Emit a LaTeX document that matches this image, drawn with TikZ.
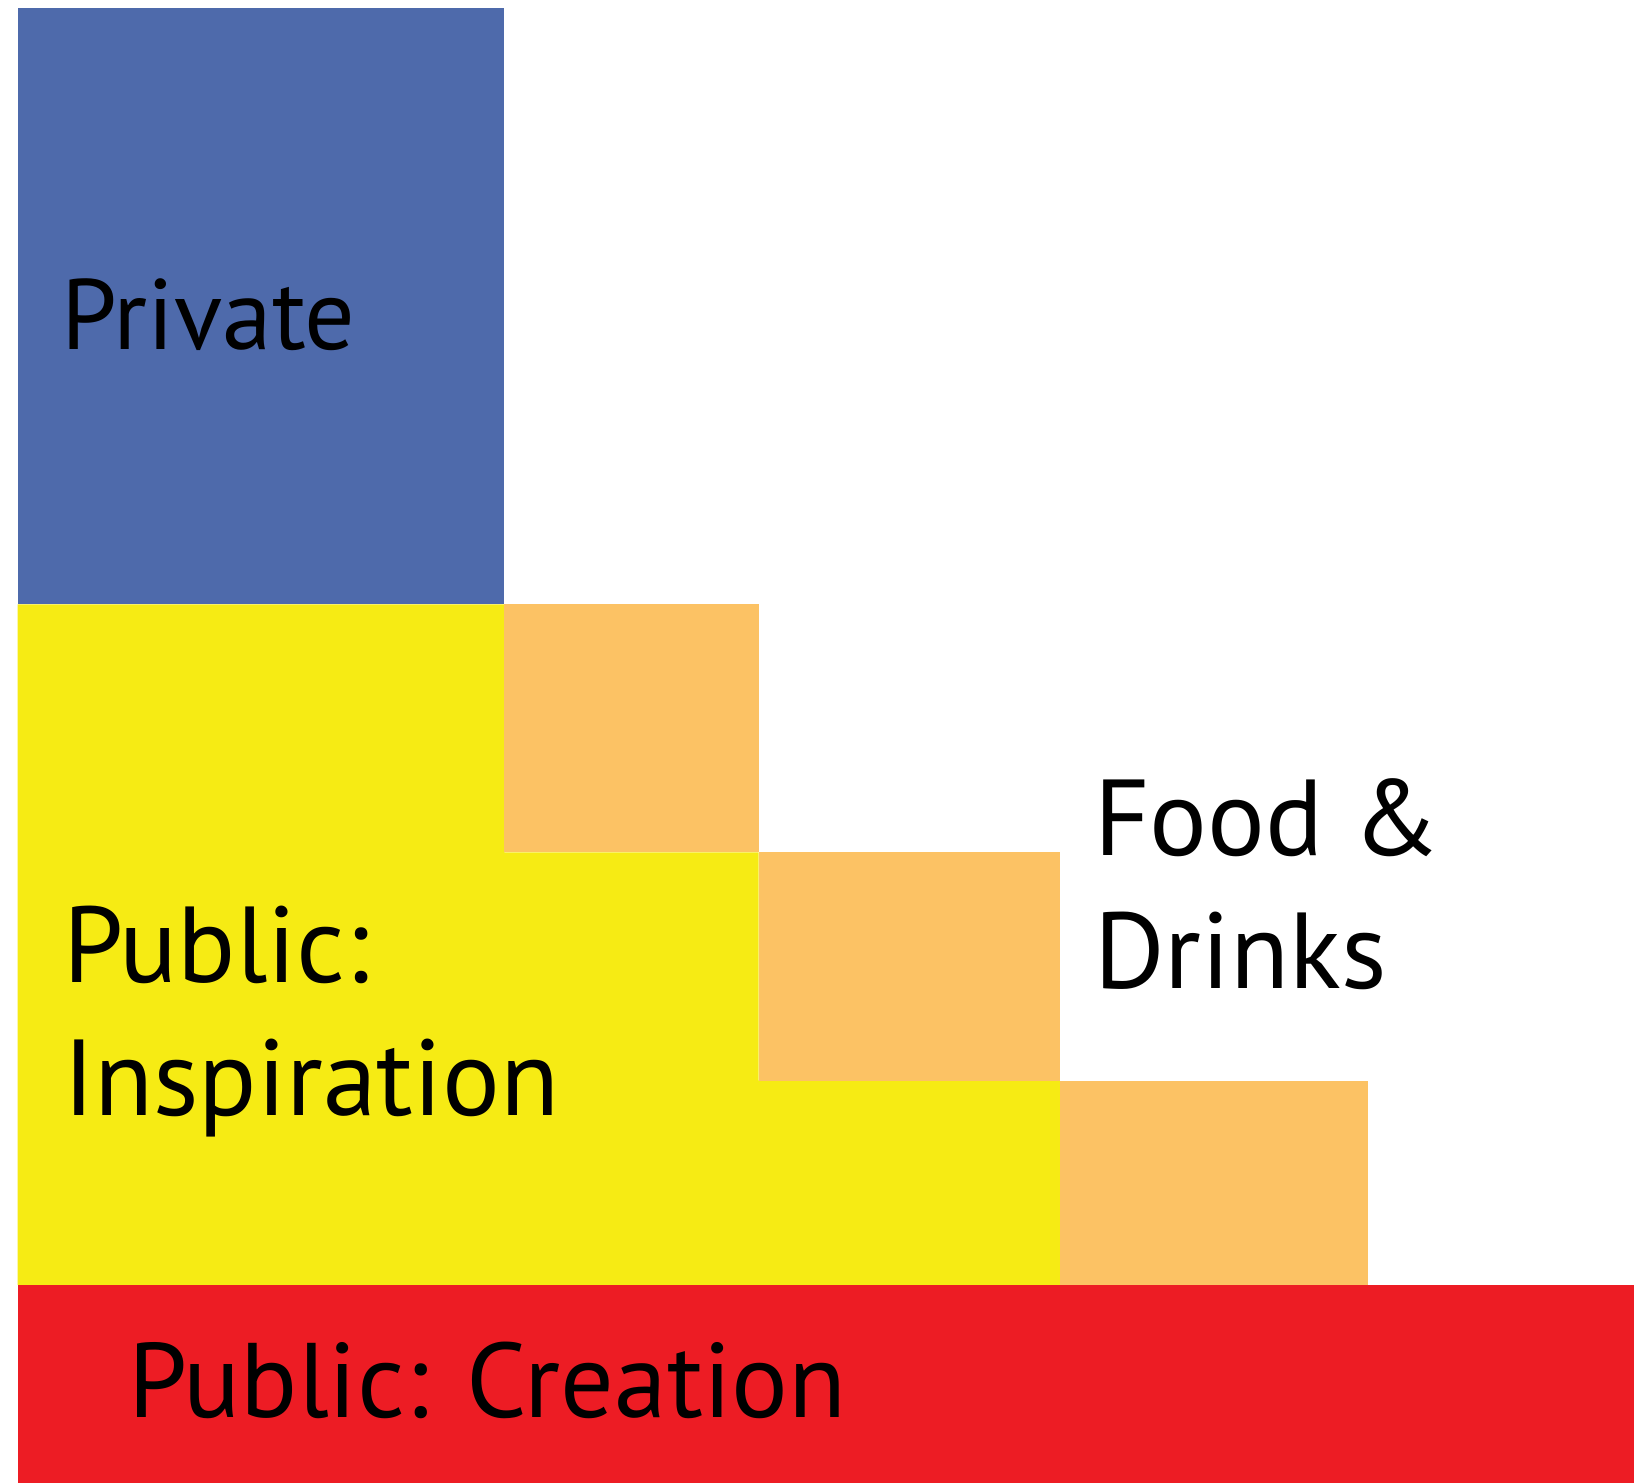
\documentclass[tikz,border=0pt]{standalone}
\usepackage{fontspec}
\setmainfont{PT Sans}
\definecolor{cblue}{RGB}{78,106,171}
\definecolor{cyellow}{RGB}{246,235,20}
\definecolor{corange}{RGB}{252,194,100}
\definecolor{cred}{RGB}{237,28,36}
\tikzset{
  lbl/.style={anchor=base west, inner sep=0pt, outer sep=0pt, align=left, text=black,
    font=\fontsize{108}{133}\selectfont},
}
\begin{document}
\begin{tikzpicture}[x=1pt,y=-1pt]
\useasboundingbox (0,0) rectangle (1634,1483);
\fill[white] (0,0) rectangle (1634,1483);
% blue
\fill[cblue] (17.7,8.3) rectangle (504.4,604.4);
% yellow staircase
\fill[cyellow] (17.7,604.4) -- (504.4,604.4) -- (504.4,852.4) -- (758.7,852.4)
  -- (758.7,1080.7) -- (1059.8,1080.7) -- (1059.8,1284.9) -- (17.7,1284.9) -- cycle;
% orange steps
\fill[corange] (504.4,604.4) rectangle (758.7,852.4);
\fill[corange] (758.7,852.4) rectangle (1059.8,1080.7);
\fill[corange] (1059.8,1080.7) rectangle (1368.3,1284.9);
% red
\fill[cred] (17.7,1284.9) rectangle (1634,1483);
% labels
\node[lbl, font=\fontsize{100}{133}\selectfont] (private) at (61,349) {Private};
\node[lbl] (publicinsp) at (63,1115) {Public:\\Inspiration};
\node[lbl] (food) at (1094,988) {Food \&\\Drinks};
\node[lbl, font=\fontsize{106}{133}\selectfont] (creation) at (128,1417.3) {Public: Creation};
\end{tikzpicture}
\end{document}
